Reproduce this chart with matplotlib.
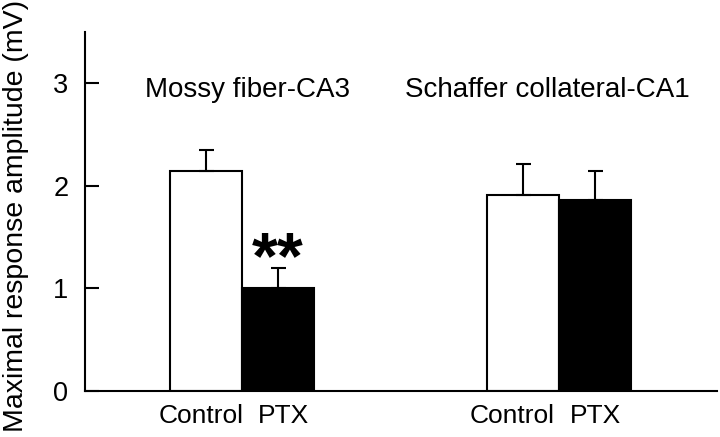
import matplotlib
matplotlib.use("Agg")
import matplotlib.pyplot as plt
import matplotlib.transforms as mtransforms
import numpy as np

plt.rcParams['font.family'] = ['Liberation Sans', 'DejaVu Sans']

groups = ["Mossy fiber-CA3", "Schaffer collateral-CA1"]
conditions = ["Control", "PTX"]
control_vals = [2.14, 1.91]
control_err = [0.21, 0.30]
ptx_vals = [1.00, 1.86]
ptx_err = [0.20, 0.28]
y_ticks = [0, 1, 2, 3]
significance = ["**", ""]
ylabel = "Maximal response amplitude (mV)"

W, H = 720, 437
fig = plt.figure(figsize=(W / 100, H / 100), dpi=100)
ax = fig.add_axes([85 / W, 1 - 391 / H, (717 - 85) / W, (391 - 32) / H])

x = np.arange(len(groups))
bw = 0.227
lw = 1.5
ekw = dict(elinewidth=1.5, capthick=1.5, ecolor='black')

ax.bar(x - bw / 2, control_vals, bw, color='white', edgecolor='black', linewidth=lw, zorder=2)
ax.bar(x + bw / 2, ptx_vals, bw, color='black', edgecolor='black', linewidth=lw, zorder=2)
ax.errorbar(x - bw / 2, control_vals, yerr=[np.zeros(2), control_err], fmt='none',
            capsize=5.4, zorder=3, **ekw)
ax.errorbar(x + bw / 2, ptx_vals, yerr=[np.zeros(2), ptx_err], fmt='none',
            capsize=5.4, zorder=3, **ekw)

ax.set_xlim(-0.495, 1.498)
ax.set_ylim(0, 3.5)
ax.set_yticks(y_ticks)
ax.set_yticklabels([str(t) for t in y_ticks], fontsize=19.5)
ax.tick_params(axis='y', direction='in', length=10, width=1.5, pad=12)
ax.set_xticks([])

for s in ['top', 'right']:
    ax.spines[s].set_visible(False)
for s in ['left', 'bottom']:
    ax.spines[s].set_linewidth(1.5)

# condition labels under bars
label_offsets = [[-5, 6], [-11, 0]]  # pixel nudges
for gi in range(len(groups)):
    for ci, cond in enumerate(conditions):
        xc = x[gi] + (ci - 0.5) * bw
        off = mtransforms.ScaledTranslation(label_offsets[gi][ci] / 100, 0, fig.dpi_scale_trans)
        ax.text(xc, -0.036, cond, transform=ax.get_xaxis_transform() + off,
                ha='center', va='top', fontsize=19)

# group titles
title_x = [-0.306, 0.514]
for gi, g in enumerate(groups):
    ax.text(title_x[gi], 2.87, g, ha='left', va='baseline', fontsize=20)

# significance stars
for gi, sig in enumerate(significance):
    if sig:
        ax.text(x[gi] + bw / 2, ptx_vals[gi] + 0.10, sig, ha='center',
                va='baseline', fontsize=48, fontweight='bold')

fig.text(16 / W, 1 - 216 / H, ylabel, rotation=90, ha='center', va='center', fontsize=20.5)

fig.savefig("out.png", dpi=100)
